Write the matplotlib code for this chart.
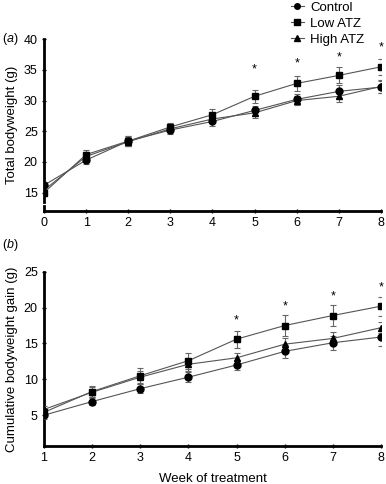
import numpy as np
import matplotlib
matplotlib.use('Agg')
import matplotlib.pyplot as plt
from matplotlib.lines import Line2D

plt.rcParams['font.family'] = ['Liberation Sans', 'DejaVu Sans']
plt.rcParams['mathtext.fontset'] = 'custom'
plt.rcParams['mathtext.rm'] = 'Liberation Sans'
plt.rcParams['mathtext.it'] = 'Liberation Sans:italic'

# (a) total bodyweight, weeks 0-8
weeks_a = [0, 1, 2, 3, 4, 5, 6, 7, 8]
ctrl_a = [16.2, 20.3, 23.4, 25.2, 26.6, 28.4, 30.2, 31.5, 32.2]
low_a = [15.0, 21.2, 23.4, 25.7, 27.7, 30.7, 32.8, 34.1, 35.5]
high_a = [15.4, 20.9, 23.3, 25.4, 27.0, 28.0, 30.0, 30.7, 32.3]
ctrl_a_err = [0.6, 0.7, 0.8, 0.6, 0.8, 0.7, 0.8, 1.0, 1.0]
low_a_err = [0.6, 0.8, 0.8, 0.6, 0.9, 1.1, 1.2, 1.3, 1.3]
high_a_err = [0.6, 0.7, 0.7, 0.6, 0.7, 0.8, 0.8, 1.0, 1.0]
stars_a = [35.0, 36.0, 37.1, 38.6]

# (b) cumulative gain, weeks 1-8
weeks_b = [1, 2, 3, 4, 5, 6, 7, 8]
ctrl_b = [5.0, 6.9, 8.7, 10.3, 12.0, 13.9, 15.1, 15.9]
low_b = [5.4, 8.3, 10.5, 12.6, 15.6, 17.5, 18.9, 20.2]
high_b = [5.8, 8.2, 10.3, 12.1, 13.0, 14.9, 15.7, 17.2]
ctrl_b_err = [0.5, 0.5, 0.6, 0.7, 0.7, 0.9, 1.0, 1.2]
low_b_err = [0.5, 0.8, 1.1, 1.1, 1.2, 1.5, 1.4, 1.3]
high_b_err = [0.5, 0.7, 0.8, 0.9, 0.7, 0.9, 0.9, 0.8]
stars_b = [18.2, 20.1, 21.5, 22.8]
star_weeks = [5, 6, 7, 8]

line_col = '#555555'
err_col = '#666666'

fig = plt.figure(figsize=(3.86, 4.84), dpi=100)
ax1 = fig.add_axes([0.114, 0.564, 0.873, 0.355])
ax2 = fig.add_axes([0.114, 0.0785, 0.873, 0.36])


def draw(ax, x, series):
    for y, e, m, ms in series:
        ax.plot(x, y, '-', color=line_col, lw=0.8, zorder=2)
        ax.errorbar(x, y, yerr=e, fmt='none', ecolor=err_col, elinewidth=0.8,
                    capsize=2.2, capthick=0.8, zorder=3)
        ax.plot(x, y, ls='none', marker=m, ms=ms, color='black', zorder=4)


def style(ax):
    for s in ['top', 'right']:
        ax.spines[s].set_visible(False)
    for s in ['left', 'bottom']:
        ax.spines[s].set_linewidth(2.0)
    ax.tick_params(direction='inout', length=3, width=1, labelsize=9, pad=3)


draw(ax1, weeks_a, [(ctrl_a, ctrl_a_err, 'o', 5), (low_a, low_a_err, 's', 5),
                    (high_a, high_a_err, '^', 5)])
for w, s in zip(star_weeks, stars_a):
    ax1.text(w, s, '*', ha='center', va='center', fontsize=9)
ax1.set_xlim(0, 8)
ax1.set_ylim(12, 40)
ax1.set_yticks([15, 20, 25, 30, 35, 40])
ax1.set_xticks(weeks_a)
style(ax1)
ax1.spines['left'].set_bounds(13.5, 40)
ax1.plot([0, 0], [12, 12.8], color='black', lw=2.0, clip_on=False, zorder=5)
ax1.set_ylabel('Total bodyweight (g)', fontsize=9.5, labelpad=4)

draw(ax2, weeks_b, [(ctrl_b, ctrl_b_err, 'o', 5), (low_b, low_b_err, 's', 5),
                    (high_b, high_b_err, '^', 5)])
for w, s in zip(star_weeks, stars_b):
    ax2.text(w, s, '*', ha='center', va='center', fontsize=9)
ax2.set_xlim(1, 8)
ax2.set_ylim(0.7, 25)
ax2.set_yticks([5, 10, 15, 20, 25])
ax2.set_xticks(weeks_b)
style(ax2)
ax2.set_ylabel('Cumulative bodyweight gain (g)', fontsize=9.5, labelpad=4)
ax2.set_xlabel('Week of treatment', fontsize=9.5, labelpad=6)

fig.text(0.005, 0.919, r'($\it{a}$)', fontsize=9, va='center')
fig.text(0.005, 0.494, r'($\it{b}$)', fontsize=9, va='center')

handles = [Line2D([], [], color=line_col, lw=0.8, marker=m, ms=4, mfc='black', mec='black')
           for m in ['o', 's', '^']]
fig.legend(handles, ['Control', 'Low ATZ', 'High ATZ'], loc='upper right',
           bbox_to_anchor=(0.958, 1.008), frameon=False, fontsize=9.5,
           handlelength=1.0, handletextpad=0.5, labelspacing=0.3, borderaxespad=0)

fig.savefig('out.png', dpi=100)
